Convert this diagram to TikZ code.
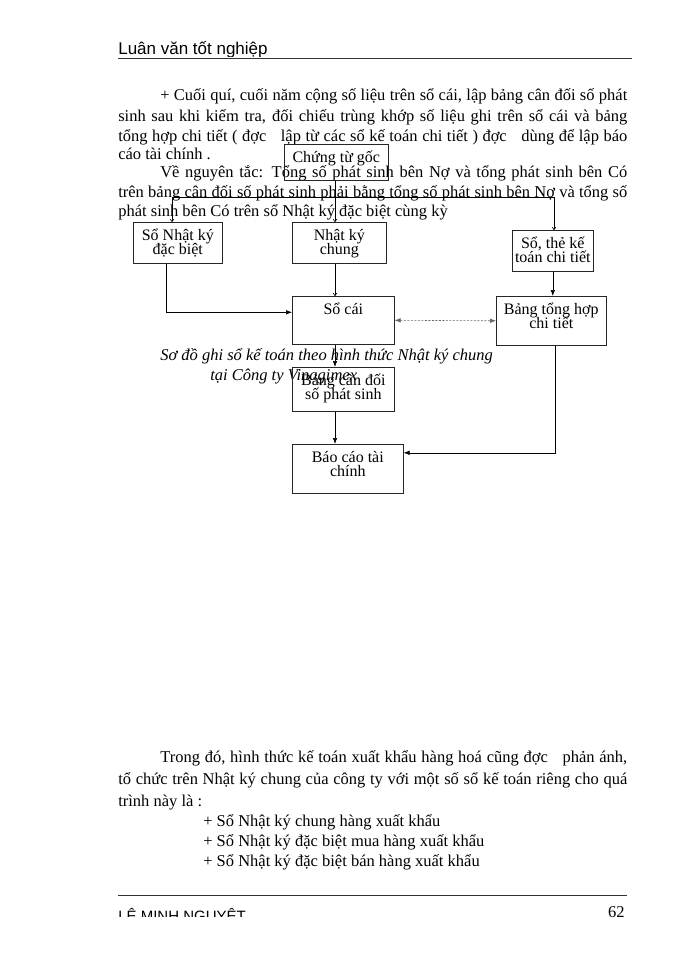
\documentclass[tikz,border=0pt]{standalone}
\usepackage{fontspec}
\setmainfont{Liberation Serif}
\setsansfont{Liberation Sans}
\usetikzlibrary{arrows.meta}

\newcommand{\bodyfont}{\fontsize{16.5}{19}\selectfont}
\newcommand{\boxfont}{\fontsize{16}{14}\selectfont}
% box text: width, height, lines (top aligned)
\newcommand{\boxtext}[3]{\parbox[c][#2pt][t]{#1pt}{\lineskiplimit=-20pt\centering\rule{0pt}{18pt}#3}}

\begin{document}
\begin{tikzpicture}
    [x=1pt, y=-1pt, line width=0.6pt,
     box/.style={draw=black!85, anchor=north west, inner sep=0pt, font=\boxfont},
     body/.style={anchor=base west, inner sep=0pt, font=\bodyfont},
     arr/.style={-{Latex[length=6pt,width=4.5pt]}},
     thinarr/.style={-{To[length=3pt,width=4pt]}},
     dasharr/.style={{Latex[length=6pt,width=4.5pt]}-{Latex[length=6pt,width=4.5pt]}, draw=black!60, dash pattern=on 2pt off 1.5pt}]
    \fill[white] (0,0) rectangle (700,960);
    \useasboundingbox (0,0) rectangle (700,960);

    % header
    \begin{scope}
        \clip (100,30) rectangle (650,57);
        \node[body, font=\sffamily\fontsize{17}{20}\selectfont] (hdr) at (118,55) {Luân văn tốt nghiệp};
    \end{scope}
    \draw[black!80] (118,58) -- (632,58);

    % text above
    \node[body] (p1) at (160,101) {\makebox[467pt][s]{+ Cuối quí, cuối năm cộng số liệu trên sổ cái, lập bảng cân đối số phát}};
    \node[body] (p2) at (118,122) {\makebox[509pt][s]{sinh sau khi kiểm tra, đối chiếu trùng khớp số liệu ghi trên sổ cái và bảng}};
    \node[body] (p3) at (118,142) {\makebox[509pt][s]{tổng hợp chi tiết ( đợc\hspace{10pt} lập từ các sổ kế toán chi tiết ) đợc\hspace{10pt} dùng để lập báo}};
    \node[body] (p4) at (118,160) {cáo tài chính .};
    \node[body] (p5) at (160,178) {\makebox[467pt][s]{Về nguyên tắc: Tổng số phát sinh bên Nợ và tổng phát sinh bên Có}};
    \node[body] (p6) at (118,197) {\makebox[509pt][s]{trên bảng cân đối số phát sinh phải bằng tổng số phát sinh bên Nợ và tổng số}};
    \node[body] (p7) at (118,216) {phát sinh bên Có trên sổ Nhật ký đặc biệt cùng kỳ};

    % caption
    \node[body, font=\bodyfont\itshape] (cap1) at (160,360) {Sơ đồ ghi sổ kế toán theo hình thức Nhật ký chung};
    \node[body, font=\bodyfont\itshape] (cap2) at (210,380) {tại Công ty Vinagimex};

    % boxes
    \node[box] (ctg) at (284,144) {\boxtext{104}{36}{Chứng từ gốc}};
    \node[box] (snk) at (133,222) {\boxtext{89}{41}{Sổ Nhật ký\\đặc biệt}};
    \node[box] (njc) at (292,222) {\boxtext{94}{41}{Nhật ký\\chung}};
    \node[box] (stkt) at (512,230) {\boxtext{81}{41}{Sổ, thẻ kế\\toán chi tiết}};
    \node[box] (sc) at (292,296) {\boxtext{102}{48}{Sổ cái}};
    \node[box] (bth) at (496,296) {\boxtext{110}{49}{Bảng tổng hợp\\chi tiết}};
    \node[box] (bcd) at (292,367) {\boxtext{102}{44}{Bảng cân đối\\số phát sinh}};
    \node[box] (bctc) at (292,444) {\boxtext{111}{49}{Báo cáo tài\\chính}};

    \coordinate (busl) at (172,197);
    \coordinate (busr) at (554,197);
    \coordinate (spine) at (335,0);

    \draw (busl) -- (busr);
    \draw [thinarr] (ctg.south -| spine) -- (njc.north -| spine);
    \draw [thinarr] (busl) -- (busl |- snk.north);
    \draw [thinarr] (busr) -- (busr |- stkt.north);
    \draw [thinarr] (njc.south -| spine) -- (sc.north -| spine);
    \draw [arr] ([xshift=-12pt]snk.south) |- ([yshift=8pt]sc.west);
    \draw [arr] (stkt.south) -- (stkt.south |- bth.north);
    \draw [dasharr] (sc.east) -- (bth.west);
    \draw [arr] (sc.south -| spine) -- (bcd.north -| spine);
    \draw [arr] (bcd.south -| spine) -- (bctc.north -| spine);
    \draw [arr] ([xshift=4pt]bth.south) |- ([yshift=16pt]bctc.east);

    % text below
    \node[body] (q1) at (160,762) {\makebox[467pt][s]{Trong đó, hình thức kế toán xuất khẩu hàng hoá cũng đợc\hspace{10pt} phản ánh,}};
    \node[body] (q2) at (118,784) {\makebox[509pt][s]{tổ chức trên Nhật ký chung của công ty với một số sổ kế toán riêng cho quá}};
    \node[body] (q3) at (118,806) {trình này là :};
    \node[body] (b1) at (203,826) {+ Sổ Nhật ký chung hàng xuất khẩu};
    \node[body] (b2) at (203,846) {+ Sổ Nhật ký đặc biệt mua hàng xuất khẩu};
    \node[body] (b3) at (203,866) {+ Sổ Nhật ký đặc biệt bán hàng xuất khẩu};

    % footer
    \draw[black!80] (118,895) -- (627,895);
    \begin{scope}
        \clip (100,900) rectangle (400,916);
        \node[body, font=\sffamily\fontsize{15}{18}\selectfont] (ftr) at (118,921) {LÊ MINH NGUYỆT};
    \end{scope}
    \node[body, anchor=base east] (pg) at (625,917) {62};
\end{tikzpicture}
\end{document}
